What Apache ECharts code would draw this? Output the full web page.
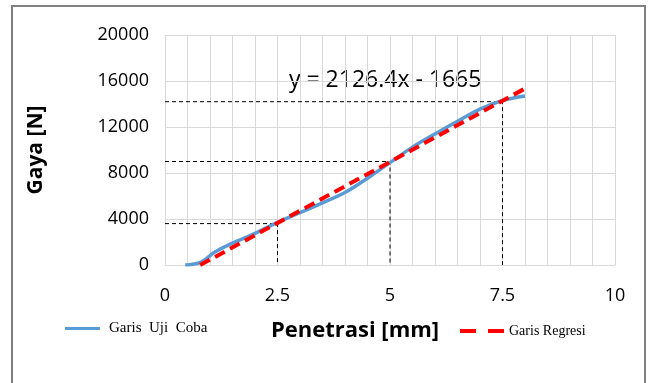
<!DOCTYPE html>
<html><head><meta charset="utf-8">
<script src="https://cdn.jsdelivr.net/npm/echarts@6/dist/echarts.min.js"></script>
<style>html,body{margin:0;padding:0;background:#fff}#c{width:651px;height:383px}</style>
</head><body><div id="c"></div>
<script>
// Test curve (Garis Uji Coba): penetration [mm], force [N]
const testX = [0.45, 0.8, 1.1, 1.5, 2.0, 2.5, 3.0, 3.5, 4.0, 4.5, 5.0, 5.5, 6.0, 6.5, 7.0, 7.5, 8.0];
const testY = [0, 250, 1100, 1900, 2750, 3700, 4550, 5400, 6300, 7550, 8900, 10250, 11400, 12500, 13550, 14300, 14700];
// Regression line endpoints (Garis Regresi)
const regX = [0.78, 8.05];
const regY = [0, 15450];
// Guide lines (dashed, black)
const guideX = [2.5, 5, 7.5];
const guideY = [3600, 9000, 14200];
const xTicks = [0, 2.5, 5, 7.5, 10];
const yTicks = [0, 4000, 8000, 12000, 16000, 20000];
const equation = 'y = 2126.4x - 1665';

const chart = echarts.init(document.getElementById('c'));
const guideSeries = guideX.map((gx, i) => ({
  type: 'line', silent: true, symbol: 'none', z: 1,
  data: [[0, guideY[i]], [gx, guideY[i]], [gx, 0]],
  lineStyle: { color: '#000', width: 1, type: [4, 3] }
}));
const font = '"Open Sans", sans-serif';
const serif = '"Liberation Serif", "Times New Roman", serif';
chart.setOption({
  animation: false,
  grid: { left: 165, top: 35, width: 450, height: 230 },
  graphic: [
    { type: 'rect', shape: { x: 12, y: 6, width: 633, height: 400 }, style: { fill: 'none', stroke: '#808080', lineWidth: 2 } },
    { type: 'text', left: 289, top: 69, style: { text: equation, font: '23px ' + font, fill: '#000' } }
  ],
  legend: [
    { data: ['Garis Uji Coba'], left: 60, top: 316, itemWidth: 35, itemHeight: 3, icon: 'rect',
      formatter: () => 'Garis  Uji  Coba',
      textStyle: { fontFamily: serif, fontSize: 15, color: '#000', padding: [12, 0, 0, 4] } },
    { data: ['Garis Regresi'], left: 455, top: 319, itemWidth: 44, itemHeight: 4,
      icon: 'path://M0,0H16V4H0Z M28,0H44V4H28Z',
      textStyle: { fontFamily: serif, fontSize: 14, color: '#000', padding: [4, 0, 0, 0] } }
  ],
  xAxis: {
    type: 'value', min: 0, max: 10, interval: 0.5,
    name: 'Penetrasi [mm]', nameLocation: 'middle', nameGap: 55,
    nameTextStyle: { fontFamily: font, fontSize: 22, fontWeight: 'bold', color: '#000', padding: [0, 70, 0, 0] },
    axisLine: { show: true, lineStyle: { color: '#d9d9d9', width: 1 } },
    axisTick: { show: false },
    axisLabel: { fontFamily: font, fontSize: 18, color: '#000', margin: 22,
      formatter: v => (xTicks.indexOf(v) >= 0 ? String(v) : '') },
    splitLine: { show: true, lineStyle: { color: '#d9d9d9', width: 1 } }
  },
  yAxis: {
    type: 'value', min: 0, max: 20000, interval: 4000,
    name: 'Gaya [N]', nameLocation: 'middle', nameGap: 118,
    nameTextStyle: { fontFamily: font, fontSize: 21, fontWeight: 'bold', color: '#000' },
    axisLine: { show: true, lineStyle: { color: '#d9d9d9', width: 1 } },
    axisTick: { show: false },
    axisLabel: { fontFamily: font, fontSize: 18, color: '#000', margin: 16,
      formatter: v => (yTicks.indexOf(v) >= 0 ? String(v) : '') },
    splitLine: { show: true, lineStyle: { color: '#d9d9d9', width: 1 } }
  },
  series: [
    ...guideSeries,
    { name: 'Garis Uji Coba', type: 'line', symbol: 'none', smooth: 0.4, z: 3,
      data: testX.map((x, i) => [x, testY[i]]),
      lineStyle: { color: '#5b9bd5', width: 3.5 }, itemStyle: { color: '#5b9bd5' } },
    { name: 'Garis Regresi', type: 'line', symbol: 'none', z: 4,
      data: regX.map((x, i) => [x, regY[i]]),
      lineStyle: { color: '#ff0000', width: 4, type: [11, 6] }, itemStyle: { color: '#ff0000' } }
  ]
});
</script></body></html>
